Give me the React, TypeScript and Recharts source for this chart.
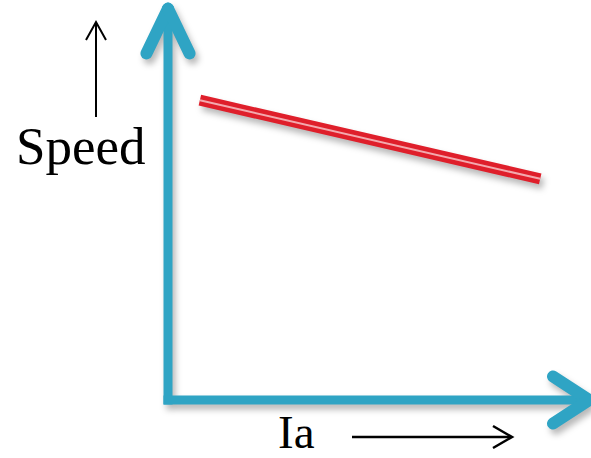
import React from "react"
import { LineChart, Line, XAxis, YAxis, ReferenceLine } from "recharts"

// speed vs armature current
const ia = [0.77, 8.99]
const speed = [7.89, 5.82]
const data = ia.map((x, i) => ({ ia: x, speed: speed[i] }))

// axis shafts and arrow heads (data units)
const origin = { x: 0, y: 0 }
const yAxisEnd = { x: 0, y: 10 }
const xAxisEnd = { x: 10, y: 0 }
const yArrowTip = { x: 0, y: 10.3 }
const yArrowArms = [{ x: -0.52, y: 9.12 }, { x: 0.52, y: 9.12 }]
const xArrowTip = { x: 10.17, y: 0 }
const xArrowArms = [{ x: 9.3, y: 0.62 }, { x: 9.3, y: -0.62 }]

const TEAL = "#2fa4c4"
const RED = "#df1f2b"
const FONT = "'Liberation Serif', 'Times New Roman', serif"

export default function App() {
  return (
    <div style={{ position: "absolute", left: 0, top: 0, width: 591, height: 458, background: "#fff" }}>
      <div style={{ filter: "drop-shadow(3px 5px 3px rgba(0,0,0,0.28))" }}>
        <LineChart width={591} height={458} data={data} margin={{ top: 20, right: 9, bottom: 58, left: 168 }}>
          <XAxis dataKey="ia" type="number" domain={[0, 10]} allowDataOverflow hide />
          <YAxis type="number" domain={[0, 10]} allowDataOverflow hide />
          <ReferenceLine segment={[origin, yAxisEnd]} stroke={TEAL} strokeWidth={9} strokeLinecap="square" ifOverflow="visible" />
          <ReferenceLine segment={[origin, xAxisEnd]} stroke={TEAL} strokeWidth={9} strokeLinecap="square" ifOverflow="visible" />
          {yArrowArms.map((a, i) => (
            <ReferenceLine key={"y" + i} segment={[a, yArrowTip]} stroke={TEAL} strokeWidth={12}
              strokeLinecap="round" ifOverflow="visible" />
          ))}
          {xArrowArms.map((a, i) => (
            <ReferenceLine key={"x" + i} segment={[a, xArrowTip]} stroke={TEAL} strokeWidth={12}
              strokeLinecap="round" ifOverflow="visible" />
          ))}
          <Line dataKey="speed" type="linear" stroke={RED} strokeWidth={11} dot={false} isAnimationActive={false} />
          <Line dataKey="speed" type="linear" stroke="#f3a9ae" strokeWidth={2} dot={false} isAnimationActive={false} />
        </LineChart>
      </div>
      <svg width={591} height={458} style={{ position: "absolute", left: 0, top: 0, pointerEvents: "none" }}>
        <text x={16} y={164} fontFamily={FONT} fontSize={53} fill="#000">Speed</text>
        <line x1={96} y1={117} x2={96} y2={23} stroke="#000" strokeWidth={2} />
        <polyline points="86,40 96,22 106,40" fill="none" stroke="#000" strokeWidth={2} />
        <text x={278} y={448} fontFamily={FONT} fontSize={47} fill="#000">Ia</text>
        <line x1={352} y1={437} x2={511} y2={437} stroke="#000" strokeWidth={2.5} />
        <polyline points="493,426 512,437 493,448" fill="none" stroke="#000" strokeWidth={2.5} />
      </svg>
    </div>
  )
}
